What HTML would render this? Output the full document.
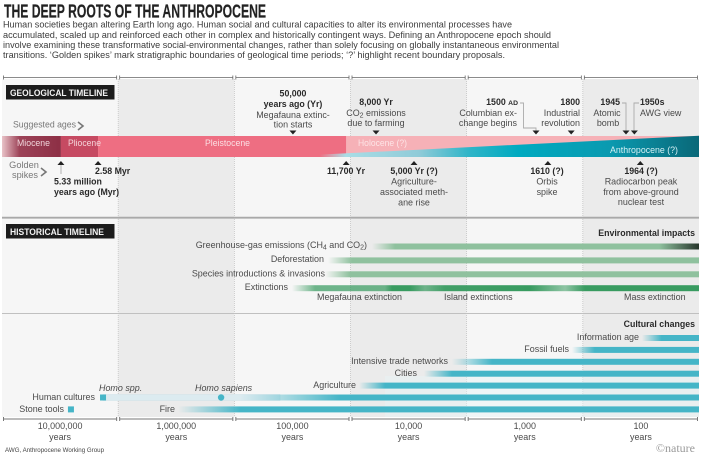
<!DOCTYPE html>
<html lang="en">
<head>
<meta charset="utf-8">
<title>The deep roots of the Anthropocene</title>
<style>
html,body{margin:0;padding:0;background:#fff;}
svg{display:block;font-family:"Liberation Sans",sans-serif;}
.r{font-size:8.95px;fill:#4a4a4a;}
.b{font-size:8.8px;fill:#2a2a2a;font-weight:bold;}
.m{text-anchor:middle;}
.e{text-anchor:end;}
.g{font-size:9.2px;fill:#777;}
</style>
</head>
<body>
<svg id="chart" xmlns="http://www.w3.org/2000/svg" width="703" height="462" viewBox="0 0 703 462">
<defs id="defs">
<linearGradient id="miocene-grad" x1="0" x2="1" y1="0" y2="0"><stop offset="0" stop-color="#e9c3c8"/><stop offset=".3" stop-color="#9c4257"/><stop offset="1" stop-color="#8d2f45"/></linearGradient>
<linearGradient id="anthro-grad" gradientUnits="userSpaceOnUse" x1="272" x2="699" y1="0" y2="0"><stop offset=".112" stop-color="#b9e2e8" stop-opacity="0"/><stop offset=".173" stop-color="#a9dde6"/><stop offset=".344" stop-color="#90cbd8"/><stop offset=".459" stop-color="#30b5c8"/><stop offset=".578" stop-color="#00aac0"/><stop offset=".79" stop-color="#0a9ab0"/><stop offset="1" stop-color="#0a6878"/></linearGradient>
</defs>
<rect width="703" height="462" fill="#fff"/>
<g id="bands"></g>

<text x="4" y="17.5" font-size="18" font-weight="bold" fill="#222" stroke="#222" stroke-width=".2" textLength="262" lengthAdjust="spacingAndGlyphs">THE DEEP ROOTS OF THE ANTHROPOCENE</text>
<g font-size="9.6" fill="#3c3c3c">
<text x="3" y="27.5" textLength="509" lengthAdjust="spacingAndGlyphs">Human societies began altering Earth long ago. Human social and cultural capacities to alter its environmental processes have</text>
<text x="3" y="38" textLength="548" lengthAdjust="spacingAndGlyphs">accumulated, scaled up and reinforced each other in complex and historically contingent ways. Defining an Anthropocene epoch should</text>
<text x="3" y="48" textLength="556" lengthAdjust="spacingAndGlyphs">involve examining these transformative social-environmental changes, rather than solely focusing on globally instantaneous environmental</text>
<text x="3" y="58" textLength="502" lengthAdjust="spacingAndGlyphs">transitions. ‘Golden spikes’ mark stratigraphic boundaries of geological time periods; ‘?’ highlight recent boundary proposals.</text>
</g>

<g id="axes"></g>

<rect x="6" y="85" width="108.500" height="14.500" fill="#1c1c1c"/>
<text x="10" y="96" font-size="9.6" font-weight="bold" fill="#f2f2f2" textLength="98" lengthAdjust="spacingAndGlyphs">GEOLOGICAL TIMELINE</text>
<rect x="6" y="224" width="108.500" height="14.500" fill="#1c1c1c"/>
<text x="10" y="235" font-size="9.6" font-weight="bold" fill="#f2f2f2" textLength="94" lengthAdjust="spacingAndGlyphs">HISTORICAL TIMELINE</text>

<line x1="2" x2="699" y1="217.700" y2="217.700" stroke="#a9a9a9" stroke-width="1.800"/>
<line x1="2" x2="699" y1="313.500" y2="313.500" stroke="#c0c0c0" stroke-width="1"/>

<g id="epochs"></g>
<g font-size="9.200">
<text x="17" y="146" fill="#f0d5da" textLength="33" lengthAdjust="spacingAndGlyphs">Miocene</text>
<text x="68" y="146" fill="#f5d5da" textLength="33" lengthAdjust="spacingAndGlyphs">Pliocene</text>
<text x="205" y="146" fill="#fbdfe3" textLength="45" lengthAdjust="spacingAndGlyphs">Pleistocene</text>
<text x="358" y="146" fill="#fde4e6" textLength="49" lengthAdjust="spacingAndGlyphs">Holocene (?)</text>
<text x="610" y="153" fill="#d5f0f4" textLength="68" lengthAdjust="spacingAndGlyphs">Anthropocene (?)</text>
</g>

<text class="g" x="13" y="127.500" textLength="63" lengthAdjust="spacingAndGlyphs">Suggested ages</text>
<path d="M78 122 L83 126 L78 130" fill="none" stroke="#777" stroke-width="1.600"/>
<text class="g m" x="24" y="168">Golden</text>
<text class="g m" x="25" y="178">spikes</text>
<path d="M41 168 L46 172 L41 176" fill="none" stroke="#777" stroke-width="1.600"/>

<g fill="none" stroke="#aaa" stroke-width=".9">
<path d="M520 103 H523.500 V128 H536 V131"/>
<path d="M622 103 H626 V131"/>
<path d="M639 103 H634 V131"/>
<line x1="61" x2="61" y1="165" y2="174"/>
</g>

<g id="events"></g>

<g>
<text class="b m" x="293" y="96.500">50,000</text>
<text class="b m" x="293" y="107">years ago (Yr)</text>
<text class="r m" x="293" y="118">Megafauna extinc-</text>
<text class="r m" x="293" y="127.500">tion starts</text>
<text class="b m" x="376" y="105">8,000 Yr</text>
<text class="r m" x="376" y="116">CO<tspan font-size="7" dy="1.500">2</tspan><tspan dy="-1.500"> emissions</tspan></text>
<text class="r m" x="376" y="126">due to farming</text>
<text class="b e" x="518" y="105">1500 <tspan font-size="6.800">AD</tspan></text>
<text class="r e" x="517" y="116">Columbian ex-</text>
<text class="r e" x="517" y="126">change begins</text>
<text class="b e" x="580" y="105">1800</text>
<text class="r e" x="580" y="116">Industrial</text>
<text class="r e" x="580" y="126">revolution</text>
<text class="b e" x="620" y="105">1945</text>
<text class="r m" x="607" y="116">Atomic</text>
<text class="r m" x="608" y="126">bomb</text>
<text class="b" x="640" y="105">1950s</text>
<text class="r" x="640" y="116">AWG view</text>
</g>

<g>
<text class="b" x="95" y="174">2.58 Myr</text>
<text class="b" x="54" y="184.500">5.33 million</text>
<text class="b" x="54" y="195">years ago (Myr)</text>
<text class="b m" x="346" y="174">11,700 Yr</text>
<text class="b m" x="414" y="174">5,000 Yr (?)</text>
<text class="r m" x="414" y="184.500">Agriculture-</text>
<text class="r m" x="414" y="195">associated meth-</text>
<text class="r m" x="414" y="205.500">ane rise</text>
<text class="b m" x="547" y="174">1610 (?)</text>
<text class="r m" x="547" y="184.500">Orbis</text>
<text class="r m" x="547" y="195">spike</text>
<text class="b m" x="641" y="174">1964 (?)</text>
<text class="r m" x="641" y="184.500">Radiocarbon peak</text>
<text class="r m" x="641" y="195">from above-ground</text>
<text class="r m" x="641" y="205">nuclear test</text>
</g>

<rect x="385" y="376" width="314" height="41" fill="#e6f3f7" opacity=".45"/>
<g id="bars"></g>

<g>
<text class="b e" x="695" y="236">Environmental impacts</text>
<text class="r e" x="367" y="248">Greenhouse-gas emissions (CH<tspan font-size="7" dy="1.500">4</tspan><tspan dy="-1.500"> and CO</tspan><tspan font-size="7" dy="1.500">2</tspan><tspan dy="-1.500">)</tspan></text>
<text class="r e" x="324" y="262">Deforestation</text>
<text class="r e" x="325" y="276.500">Species introductions &amp; invasions</text>
<text class="r e" x="288" y="290">Extinctions</text>
<text class="r" x="317" y="300">Megafauna extinction</text>
<text class="r" x="444" y="300">Island extinctions</text>
<text class="r" x="624" y="300">Mass extinction</text>
</g>

<g>
<text class="b e" x="695" y="327">Cultural changes</text>
<text class="r e" x="639" y="340">Information age</text>
<text class="r e" x="569" y="352">Fossil fuels</text>
<text class="r e" x="448" y="364">Intensive trade networks</text>
<text class="r e" x="417" y="376">Cities</text>
<text class="r e" x="356" y="388">Agriculture</text>
<text class="r" x="99" y="391" font-style="italic">Homo spp.</text>
<text class="r" x="195" y="391" font-style="italic">Homo sapiens</text>
<text class="r e" x="95" y="400">Human cultures</text>
<text class="r e" x="64" y="412">Stone tools</text>
<text class="r e" x="175" y="412">Fire</text>
</g>

<text x="5" y="452" font-size="6.500" fill="#444" textLength="99" lengthAdjust="spacingAndGlyphs">AWG, Anthropocene Working Group</text>
<text x="695" y="452" text-anchor="end" font-size="12" fill="#9a9a9a" style="font-family:'Liberation Serif',serif">©nature</text>

<script>
// Axis values (years before present)
var decadeAges = [10000000, 1000000, 100000, 10000, 1000, 100, 10];
var decadeLabels = ["10,000,000", "1,000,000", "100,000", "10,000", "1,000", "100"];

// Epoch boundaries as placed on the axis
var epochNames = ["Miocene", "Pliocene", "Pleistocene"];
var epochStartAges = [10000000, 3110000, 1490000];
var epochEndAges = [3110000, 1490000, 10900];
var epochFills = ["url(#miocene-grad)", "#c64a62", "#ee6e82"];

// Event markers as placed on the axis
var suggestedAges = [31300, 6030, 253, 126, 42.5, 36];
var spikeAges = [3110000, 1490000, 10900, 2840, 200, 32];

// Environmental impacts
var envNames = ["greenhouse-gas", "deforestation", "species-introductions"];
var envStartAges = [6530, 15600, 16600];
var envSolidAges = [4140, 9700, 10100];

// Extinction intensity profile
var extinctionAges = [31900, 20200, 5050, 4390, 3080, 2280, 1540, 285, 142, 96, 10];
var extinctionStrength = [0, 0.72, 0.72, 1, 1, 0.7, 0.95, 1, 0.55, 1, 1];

// Greenhouse-gas acceleration
var ghgDarkStartAge = 22;
var ghgDarkEndAge = 10;

// Cultural changes
var cultureNames = ["information-age", "fossil-fuels", "intensive-trade", "cities", "agriculture", "human-cultures", "fire"];
var cultureStartAges = [31, 124, 1340, 2330, 8450, 89300, 305000];
var cultureSolidAges = [21, 79, 605, 1340, 5050, 12300, 89300];

// Early human markers
var homoSppAge = 1350000;
var homoSapiensAge = 130000;
var stoneToolsAge = 2550000;

var NS = "http://www.w3.org/2000/svg";
var plotLeft = 2, plotRight = 699;
function x(age) {
  var hi = Math.log10(decadeAges[0]), lo = Math.log10(decadeAges[decadeAges.length - 1]);
  return plotRight - (plotRight - plotLeft) * (Math.log10(age) - lo) / (hi - lo);
}
function envY(i) { return 243.5 + 13.9 * i; }
function cultureY(i) { return 335 + 11.9 * i; }
function mk(tag, attrs, parent) {
  var n = document.createElementNS(NS, tag);
  for (var k in attrs) n.setAttribute(k, attrs[k]);
  parent.appendChild(n);
  return n;
}
var defs = document.getElementById("defs");
var bands = document.getElementById("bands");
var axes = document.getElementById("axes");
var epochs = document.getElementById("epochs");
var events = document.getElementById("events");
var bars = document.getElementById("bars");

// bands, axes and axis labels
decadeLabels.forEach(function (label, i) {
  var a = x(decadeAges[i]), b = x(decadeAges[i + 1]);
  var band = mk("rect", {x: a, y: 79, width: b - a, height: 338, fill: i % 2 ? "#ebebeb" : "#f6f6f6"}, bands);
  
  
  if (i > 0) {
    var sep = mk("line", {x1: a, x2: a, y1: 79, y2: 417, stroke: "#bdbdbd", "stroke-width": 0.7, "stroke-dasharray": "1 1"}, bands);
    
    
  }
  [77.5, 419].forEach(function (y) {
    var p = mk("path", {d: "M" + (a + 1.5) + " " + (y - 2) + " V" + (y + 2) + " M" + (a + 1.5) + " " + y + " H" + (b - 1.5) + " M" + (b - 1.5) + " " + (y - 2) + " V" + (y + 2), fill: "none", stroke: y < 100 ? "#666" : "#777", "stroke-width": y < 100 ? 0.8 : 1}, axes);
    
    
  });
  var mid = (a + b) / 2;
  var t1 = mk("text", {x: mid, y: 429, "class": "r m", "font-size": 9.6}, axes);
  t1.textContent = label;
  
  
  var t2 = mk("text", {x: mid, y: 440, "class": "r m"}, axes);
  t2.textContent = "years";
  
  
});

// epoch band
var holoX = x(epochEndAges[2]);
var holo = mk("rect", {x: holoX, y: 136, width: plotRight - holoX, height: 21, fill: "#f6b1b7"}, epochs);


epochNames.forEach(function (name, i) {
  var a = x(epochStartAges[i]), b = x(epochEndAges[i]);
  var seg = mk("rect", {x: a, y: 136, width: b - a, height: 21, fill: epochFills[i]}, epochs);
  
  
});
var wedge = mk("polygon", {points: "272,157 699,135.700 699,157", fill: "url(#anthro-grad)"}, epochs);



// event markers
suggestedAges.forEach(function (age) {
  var cx = x(age);
  var tri = mk("polygon", {points: (cx - 3.5) + ",130.5 " + (cx + 3.5) + ",130.5 " + cx + ",134.5", fill: "#222"}, events);
  
  
});
spikeAges.forEach(function (age) {
  var cx = x(age);
  var tri = mk("polygon", {points: (cx - 3.5) + ",165 " + (cx + 3.5) + ",165 " + cx + ",161", fill: "#222"}, events);
  
  
});

// bars
var gradId = 0;
function gradient(ages, ops, color) {
  var id = "bar-grad-" + (gradId++);
  var a = x(ages[0]), b = x(ages[ages.length - 1]);
  var g = mk("linearGradient", {id: id, gradientUnits: "userSpaceOnUse", x1: a, x2: b, y1: 0, y2: 0}, defs);
  ages.forEach(function (age, i) {
    mk("stop", {offset: (x(age) - a) / (b - a), "stop-color": color, "stop-opacity": ops[i]}, g);
  });
  return id;
}
function fadeBar(name, startAge, solidAge, endAge, y, color) {
  var id = gradient([startAge, solidAge, endAge], [0, 1, 1], color);
  var r = mk("rect", {x: x(startAge), y: y, width: x(endAge) - x(startAge), height: 6, fill: "url(#" + id + ")"}, bars);
  
  
}
var lastAge = decadeAges[decadeAges.length - 1];
envNames.forEach(function (name, i) {
  fadeBar(name + '-bar', envStartAges[i], envSolidAges[i], lastAge, envY(i), "#8fc19e");
});
var darkId = gradient([ghgDarkStartAge, ghgDarkEndAge], [0, 1], "#26352b");
var ghgDark = mk("rect", {x: x(ghgDarkStartAge), y: envY(0), width: x(ghgDarkEndAge) - x(ghgDarkStartAge), height: 6, fill: "url(#" + darkId + ")"}, bars);


var extId = gradient(extinctionAges, extinctionStrength, "#389b60");
var ext = mk("rect", {x: x(extinctionAges[0]), y: envY(3), width: x(lastAge) - x(extinctionAges[0]), height: 6, fill: "url(#" + extId + ")"}, bars);



var pale = mk("rect", {x: x(homoSppAge), y: cultureY(5), width: x(cultureStartAges[5]) + 40 - x(homoSppAge), height: 6, fill: "#dcebf0", stroke: "#cfe2e8", "stroke-width": 0.5}, bars);


cultureNames.forEach(function (name, i) {
  fadeBar(name + '-bar', cultureStartAges[i], cultureSolidAges[i], lastAge, cultureY(i), "#45b5c7");
});
var sq1 = mk("rect", {x: x(homoSppAge) - 3, y: cultureY(5), width: 6, height: 6, fill: "#45b5c7"}, bars);


var dot = mk("circle", {cx: x(homoSapiensAge), cy: cultureY(5) + 3, r: 3.2, fill: "#45b5c7"}, bars);


var sq2 = mk("rect", {x: x(stoneToolsAge) - 3, y: cultureY(6), width: 6, height: 6, fill: "#45b5c7"}, bars);


</script>
</svg>
</body>
</html>
